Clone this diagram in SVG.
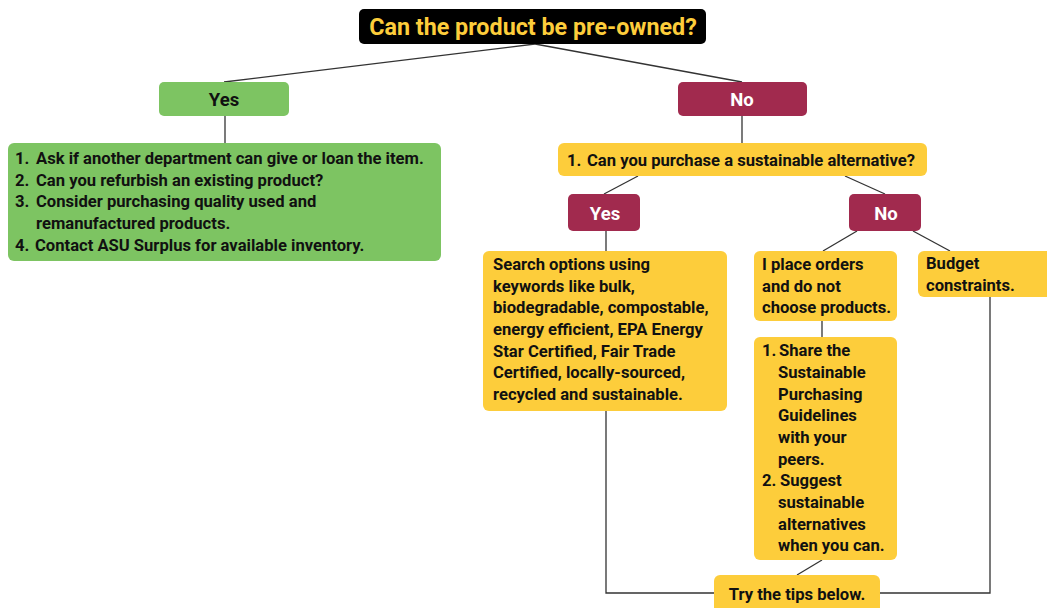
<svg xmlns="http://www.w3.org/2000/svg" width="1047" height="608" viewBox="0 0 1047 608">
<style>
.t{font-family:Roboto,"Liberation Sans",sans-serif;font-weight:700;}
.body{font-size:16.6px;fill:#111;}
.lbl{font-size:18.5px;text-anchor:middle;}
.yel{fill:#fdcd3b;}
.grn{fill:#7dc462;}
.mar{fill:#a12a4e;}
.c{fill:none;stroke:#333;stroke-width:1.3;}
</style>
<rect width="1047" height="608" fill="#fff"/>
<g id="connectors">
<path class="c" d="M535,44 L224,82"/>
<path class="c" d="M535,44 L742,82"/>
<path class="c" d="M225,116 L225,143"/>
<path class="c" d="M742,116 L742,143"/>
<path class="c" d="M638,176 L604,194"/>
<path class="c" d="M845,176 L885,194"/>
<path class="c" d="M606,231 L606,251"/>
<path class="c" d="M857,231 L823,251"/>
<path class="c" d="M913,231 L950,251"/>
<path class="c" d="M822,321 L822,337"/>
<path class="c" d="M822,560 L797,575"/>
<path class="c" d="M606,411 L606,593 L714,593"/>
<path class="c" d="M990,297 L990,593 L880,593"/>
</g>
<g id="title">
<rect x="359" y="9" width="347" height="35" rx="5" fill="#000"/>
<text class="t" x="533" y="35" font-size="23.3" text-anchor="middle" fill="#fdcd3b">Can the product be pre-owned?</text>
</g>
<g id="yes1">
<rect class="grn" x="159" y="82" width="130" height="34" rx="5"/>
<text class="t lbl" x="224" y="106" fill="#111">Yes</text>
</g>
<g id="no1">
<rect class="mar" x="678" y="82" width="129" height="34" rx="5"/>
<text class="t lbl" x="742" y="106" fill="#fff" font-size="17.5">No</text>
</g>
<g id="reuse">
<rect class="grn" x="8" y="143" width="433" height="118" rx="6"/>
<text class="t body">
<tspan x="15" y="164">1.</tspan><tspan x="36" y="164">Ask if another department can give or loan the item.</tspan>
<tspan x="15" y="186">2.</tspan><tspan x="36" y="186">Can you refurbish an existing product?</tspan>
<tspan x="15" y="207">3.</tspan><tspan x="36" y="207">Consider purchasing quality used and</tspan>
<tspan x="36" y="229">remanufactured products.</tspan>
<tspan x="15" y="251">4.</tspan><tspan x="35" y="251">Contact ASU Surplus for available inventory.</tspan>
</text>
</g>
<g id="alt">
<rect class="yel" x="558" y="143" width="369" height="33" rx="6"/>
<text class="t body"><tspan x="567" y="166">1.</tspan><tspan x="587" y="166">Can you purchase a sustainable alternative?</tspan></text>
</g>
<g id="yes2">
<rect class="mar" x="568" y="194" width="72" height="37" rx="5"/>
<text class="t lbl" x="605" y="220" fill="#fff">Yes</text>
</g>
<g id="no2">
<rect class="mar" x="849" y="194" width="72" height="37" rx="5"/>
<text class="t lbl" x="886" y="220" fill="#fff">No</text>
</g>
<g id="search">
<rect class="yel" x="483" y="251" width="244" height="160" rx="6"/>
<text class="t body">
<tspan x="493" y="270">Search options using</tspan>
<tspan x="493" y="292">keywords like bulk,</tspan>
<tspan x="493" y="313">biodegradable, compostable,</tspan>
<tspan x="493" y="335">energy efficient, EPA Energy</tspan>
<tspan x="493" y="357">Star Certified, Fair Trade</tspan>
<tspan x="493" y="378">Certified, locally-sourced,</tspan>
<tspan x="493" y="400">recycled and sustainable.</tspan>
</text>
</g>
<g id="orders">
<rect class="yel" x="754" y="251" width="143" height="70" rx="6"/>
<text class="t body">
<tspan x="762" y="270">I place orders</tspan>
<tspan x="762" y="292">and do not</tspan>
<tspan x="762" y="313">choose products.</tspan>
</text>
</g>
<g id="budget">
<rect class="yel" x="918" y="251" width="140" height="46" rx="6"/>
<text class="t body">
<tspan x="926" y="269">Budget</tspan>
<tspan x="926" y="291">constraints.</tspan>
</text>
</g>
<g id="share">
<rect class="yel" x="754" y="337" width="143" height="223" rx="6"/>
<text class="t body">
<tspan x="762" y="356">1.</tspan><tspan x="779" y="356">Share the</tspan>
<tspan x="778" y="378">Sustainable</tspan>
<tspan x="778" y="400">Purchasing</tspan>
<tspan x="778" y="421">Guidelines</tspan>
<tspan x="778" y="443">with your</tspan>
<tspan x="778" y="465">peers.</tspan>
<tspan x="762" y="486">2.</tspan><tspan x="780" y="486">Suggest</tspan>
<tspan x="778" y="508">sustainable</tspan>
<tspan x="778" y="530">alternatives</tspan>
<tspan x="778" y="551">when you can.</tspan>
</text>
</g>
<g id="tips">
<rect class="yel" x="714" y="575" width="166" height="40" rx="6"/>
<text class="t body" x="797" y="600" text-anchor="middle">Try the tips below.</text>
</g>
</svg>
